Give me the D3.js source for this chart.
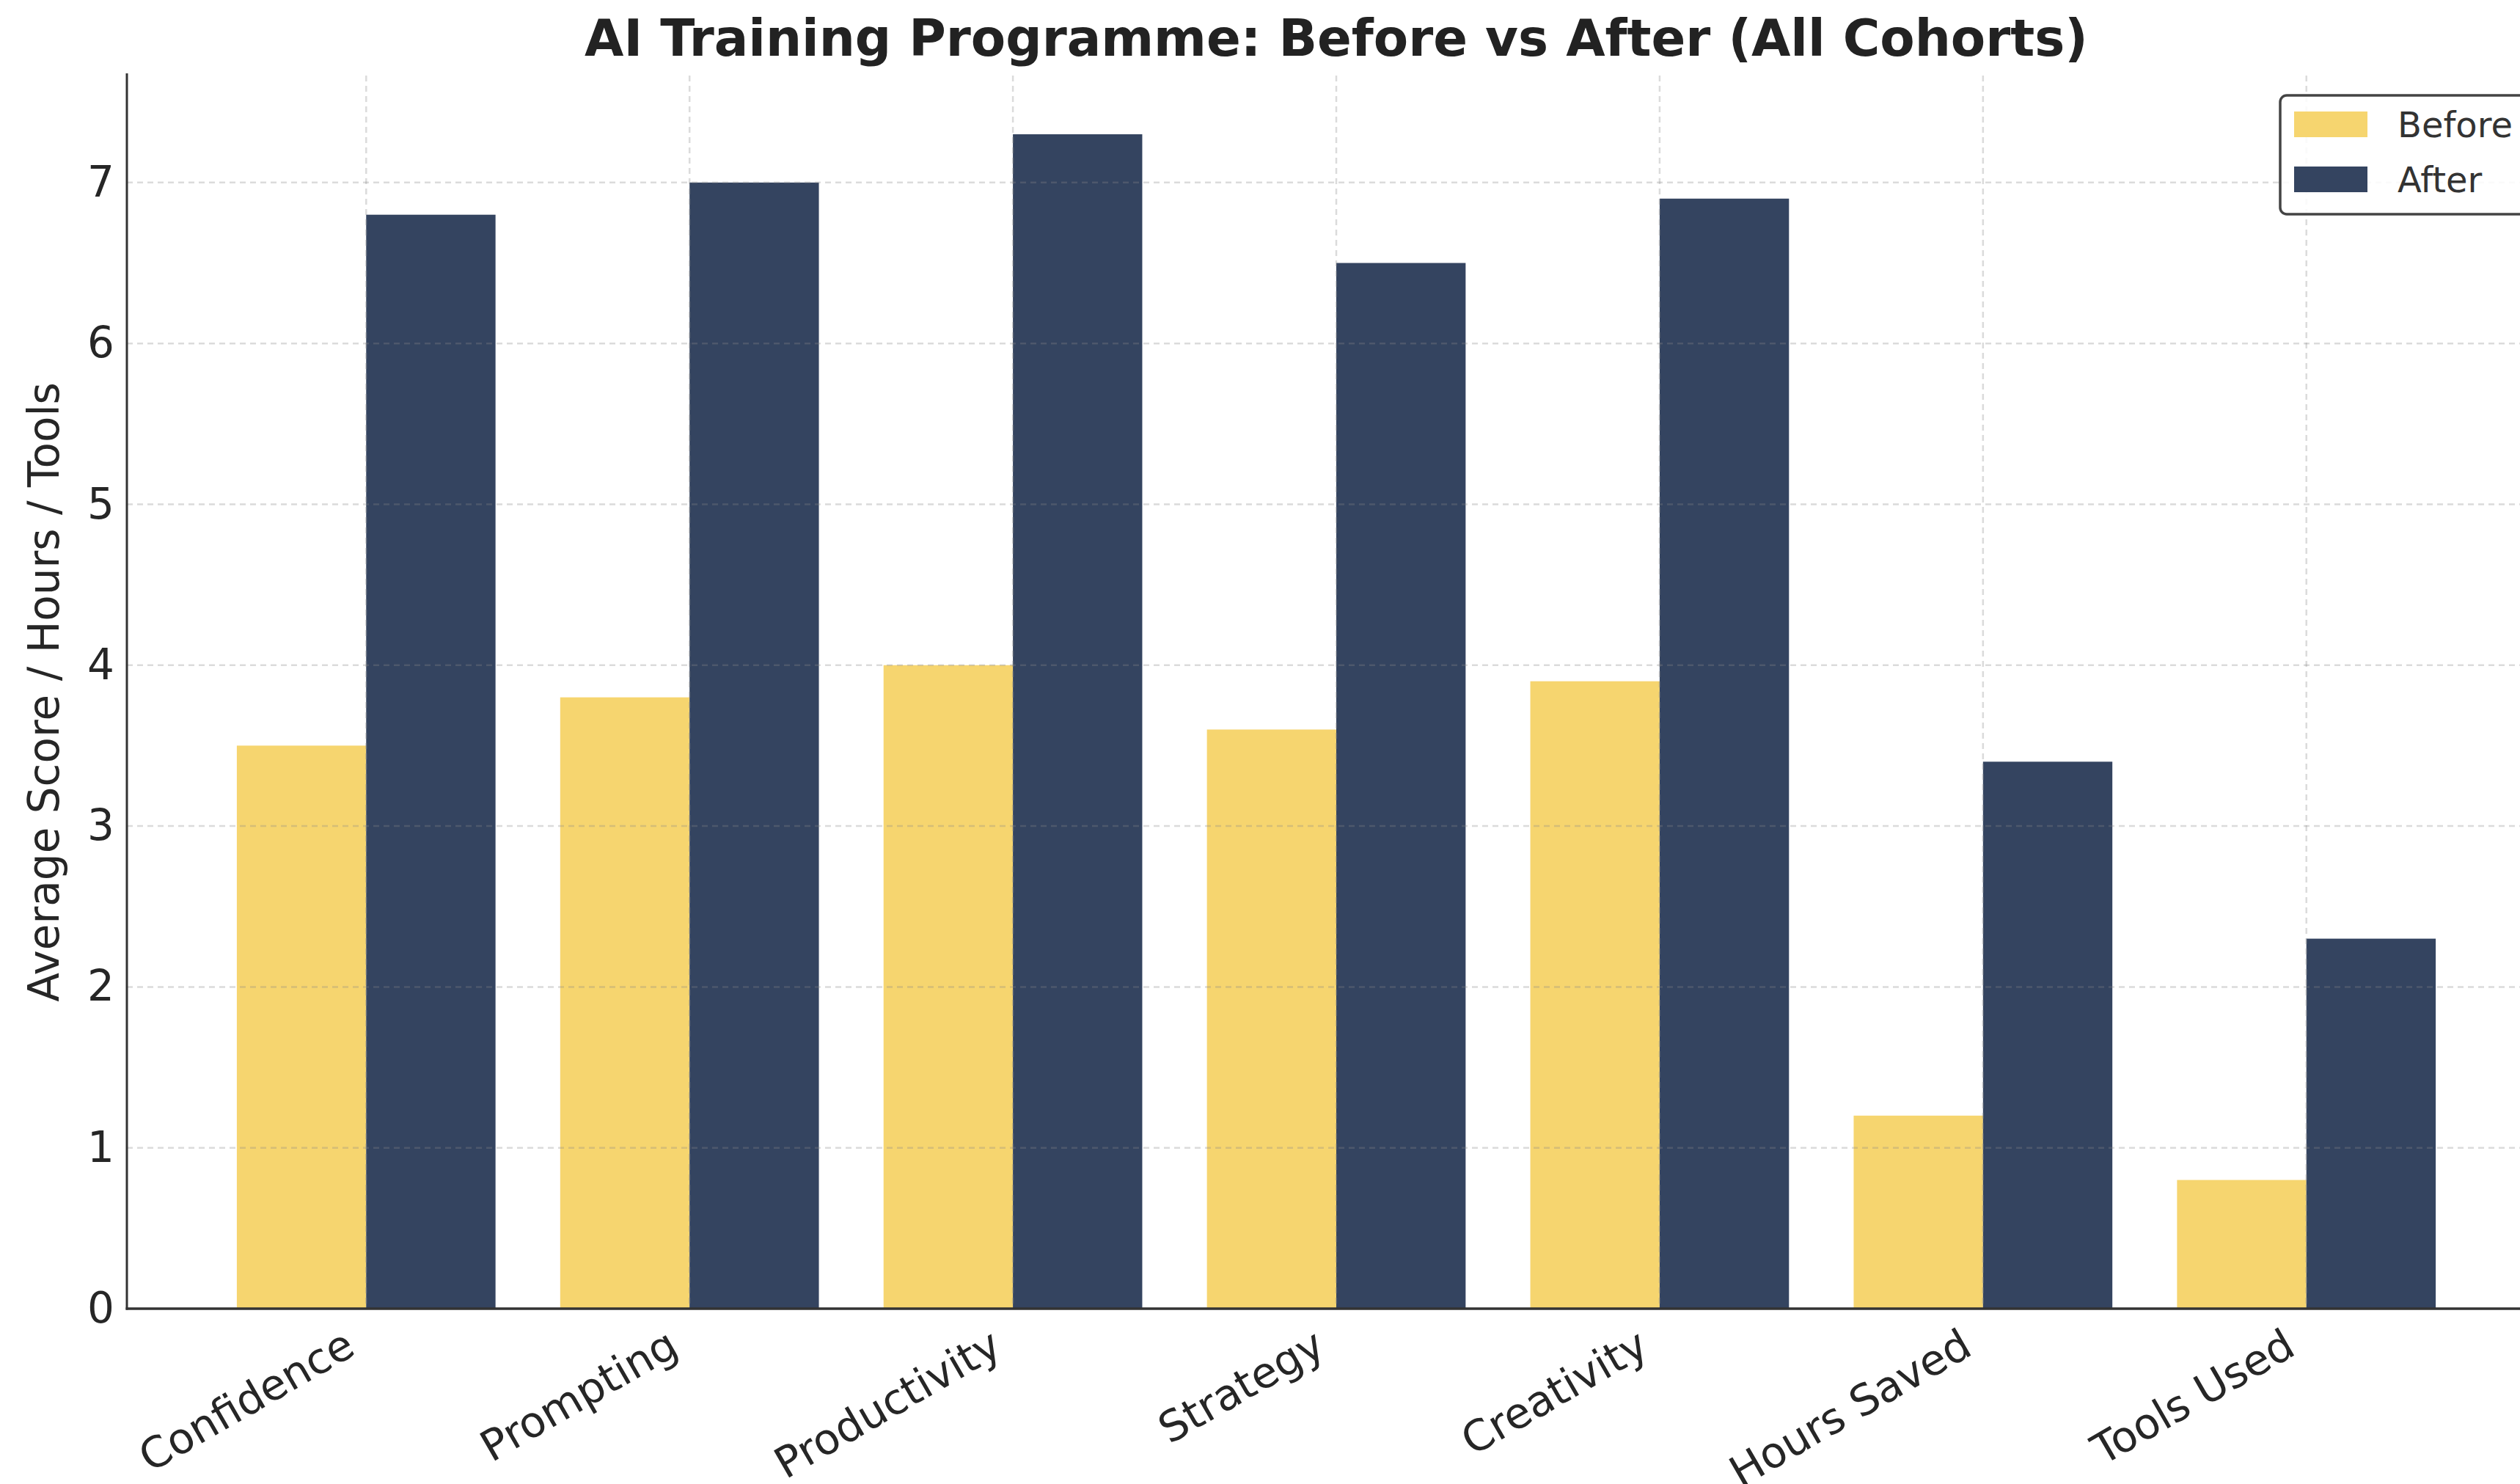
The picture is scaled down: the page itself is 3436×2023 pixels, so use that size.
<!DOCTYPE html>
<html>
<head>
<meta charset="utf-8">
<script src="https://cdn.jsdelivr.net/npm/d3@7"></script>
<style>
  html, body { margin: 0; padding: 0; background: #ffffff; }
  svg { display: block; }
  text { font-family: "DejaVu Sans", sans-serif; }
</style>
</head>
<body>
<script>
// ---- Data ----
const categories = ["Confidence", "Prompting", "Productivity", "Strategy", "Creativity", "Hours Saved", "Tools Used"];
const seriesNames = ["Before", "After"];
const beforeValues = [3.5, 3.8, 4.0, 3.6, 3.9, 1.2, 0.8];
const afterValues  = [6.8, 7.0, 7.3, 6.5, 6.9, 3.4, 2.3];
const yTicks = [0, 1, 2, 3, 4, 5, 6, 7];
const titleText = "AI Training Programme: Before vs After (All Cohorts)";
const yLabelText = "Average Score / Hours / Tools";

// ---- Layout ----
const W = 3436, H = 2023;
const plot = { left: 173, right: 3471, top: 103, bottom: 1784 };
const colors = { Before: "#F6D56F", After: "#344460" };

const svg = d3.select("body").append("svg").attr("width", W).attr("height", H);
svg.append("rect").attr("width", W).attr("height", H).attr("fill", "#ffffff");

const x = d3.scaleBand().domain(categories).range([plot.left, plot.right])
  .paddingInner(0.2).paddingOuter(0.34);
const xs = d3.scaleBand().domain(seriesNames).range([0, x.bandwidth()]).padding(0);
const y = d3.scaleLinear().domain([0, 7.665]).range([plot.bottom, plot.top]);

const rows = categories.map((c, i) => ({ cat: c, Before: beforeValues[i], After: afterValues[i] }));

// ---- Bars ----
const g = svg.append("g");
const groups = g.selectAll("g.grp").data(rows).join("g")
  .attr("transform", d => `translate(${x(d.cat)},0)`);
groups.selectAll("rect").data(d => seriesNames.map(s => ({ s, v: d[s] }))).join("rect")
  .attr("x", d => xs(d.s))
  .attr("width", xs.bandwidth())
  .attr("y", d => y(d.v))
  .attr("height", d => y(0) - y(d.v))
  .attr("fill", d => colors[d.s]);

// ---- Grid (drawn over bars, faint) ----
const grid = svg.append("g").attr("stroke", "#888").attr("stroke-opacity", 0.3)
  .attr("stroke-width", 2.5).attr("stroke-dasharray", "8,6");
grid.selectAll("line.h").data(yTicks.filter(t => t > 0)).join("line")
  .attr("x1", plot.left).attr("x2", plot.right)
  .attr("y1", d => y(d)).attr("y2", d => y(d));
grid.selectAll("line.v").data(categories).join("line")
  .attr("x1", d => x(d) + x.bandwidth() / 2).attr("x2", d => x(d) + x.bandwidth() / 2)
  .attr("y1", plot.top).attr("y2", plot.bottom);

// ---- Axes ----
const yAxis = d3.axisLeft(y).tickValues(yTicks).tickSize(0).tickPadding(17).tickFormat(d3.format("d"));
const yAxisG = svg.append("g").attr("transform", `translate(${plot.left},0)`).call(yAxis);
yAxisG.select(".domain").remove();
yAxisG.selectAll("text").attr("font-size", 58).attr("fill", "#262626")
  .attr("font-family", "DejaVu Sans, sans-serif");

const xAxis = d3.axisBottom(x).tickSize(0).tickPadding(0);
const xAxisG = svg.append("g").attr("transform", `translate(0,${plot.bottom})`).call(xAxis);
xAxisG.select(".domain").remove();
xAxisG.selectAll(".tick text")
  .attr("font-size", 58).attr("fill", "#262626")
  .attr("font-family", "DejaVu Sans, sans-serif")
  .attr("text-anchor", "end")
  .attr("dy", null).attr("y", null)
  .attr("transform", "translate(-12,61) rotate(-30)");

// Spines
svg.append("line").attr("x1", plot.left).attr("x2", plot.left).attr("y1", 100).attr("y2", plot.bottom + 1.5)
  .attr("stroke", "#333").attr("stroke-width", 3);
svg.append("line").attr("x1", plot.left - 1.5).attr("x2", plot.right).attr("y1", plot.bottom).attr("y2", plot.bottom)
  .attr("stroke", "#333").attr("stroke-width", 3.5);

// ---- Titles ----
svg.append("text").attr("x", (plot.left + plot.right) / 2).attr("y", 76)
  .attr("text-anchor", "middle").attr("font-size", 69).attr("font-weight", "bold")
  .attr("fill", "#222").text(titleText);

svg.append("text").attr("transform", `translate(80,${(plot.top + plot.bottom) / 2}) rotate(-90)`)
  .attr("text-anchor", "middle").attr("font-size", 58).attr("fill", "#262626").text(yLabelText);

// ---- Legend ----
const lg = svg.append("g").attr("transform", "translate(3109,130)");
lg.append("rect").attr("x", 0).attr("y", 0).attr("width", 420).attr("height", 162).attr("rx", 9)
  .attr("fill", "#ffffff").attr("fill-opacity", 0.85).attr("stroke", "#444").attr("stroke-width", 3.5);
seriesNames.forEach((s, i) => {
  lg.append("rect").attr("x", 19).attr("y", 22 + i * 75).attr("width", 100).attr("height", 35).attr("fill", colors[s]);
  lg.append("text").attr("x", 160).attr("y", 22 + i * 75 + 17.5).attr("dy", "0.36em")
    .attr("font-size", 48).attr("fill", "#333").text(s);
});
</script>
</body>
</html>
